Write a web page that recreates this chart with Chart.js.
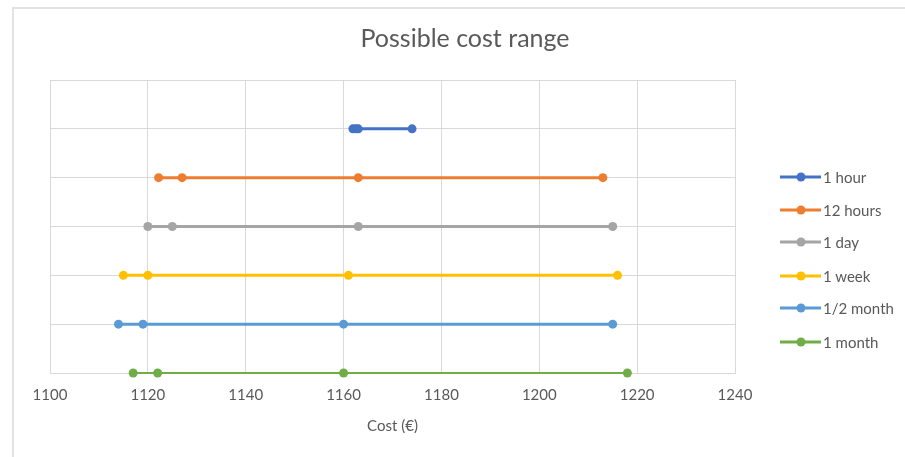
<!DOCTYPE html>
<html>
<head>
<meta charset="utf-8">
<script src="https://cdn.jsdelivr.net/npm/chart.js@4"></script>
<style>
  body { margin: 0; background: #fff; font-family: Lato, "Open Sans", sans-serif; color: #595959; }
  #wrap { position: relative; width: 905px; height: 457px; overflow: hidden; }
  #frame { position: absolute; left: 12px; top: 7px; width: 1000px; height: 1000px;
           border-left: 2px solid #e2e2e2; border-top: 2px solid #e2e2e2; }
  #chart { position: absolute; left: 0; top: 0; }
  #title { position: absolute; left: 0; top: 25px; width: 930px; text-align: center;
           font-size: 25px; line-height: 1; }
  .leg { position: absolute; left: 780px; height: 18px; line-height: 18px; font-size: 15px; white-space: nowrap; }
  .leg svg { vertical-align: top; margin-right: 2px; }
</style>
</head>
<body>
<div id="wrap">
  <div id="frame"></div>
  <canvas id="chart" width="905" height="457"></canvas>
  <div id="title">Possible cost range</div>
  <div id="legend"></div>
</div>
<script>
// series names, top row first
var categories = ['1 hour', '12 hours', '1 day', '1 week', '1/2 month', '1 month'];
// row level of each series on the (hidden) y axis
var rowLevels = [5, 4, 3, 2, 1, 0];
// cost points of each series (€)
var costs1h   = [1161.9, 1162.5, 1163, 1174];
var costs12h  = [1122.2, 1127, 1163, 1213];
var costs1d   = [1120, 1125, 1163, 1215];
var costs1w   = [1115, 1120, 1161, 1216];
var costsHalf = [1114, 1119, 1160, 1215];
var costs1m   = [1117, 1122, 1160, 1218];
var allCosts = [costs1h, costs12h, costs1d, costs1w, costsHalf, costs1m];
// x axis ticks
var xMin = 1100, xMax = 1240, xStep = 20;

var colors = ['#4472C4', '#ED7D31', '#A5A5A5', '#FFC000', '#5B9BD5', '#70AD47'];
var widths = [3, 3, 3, 3, 3, 2];
var legendY = [177, 210, 242, 276, 308, 342];

var datasets = [];
for (var i = 0; i < categories.length; i++) {
  var pts = allCosts[i].map(function (c) { return { x: c, y: rowLevels[i] }; });
  datasets.push({
    label: categories[i],
    data: pts,
    borderColor: colors[i],
    backgroundColor: colors[i],
    borderWidth: widths[i],
    pointRadius: 4.5,
    pointBorderWidth: 0,
    pointHoverRadius: 4.5,
    clip: false
  });
}

var grey = '#d9d9d9';
new Chart(document.getElementById('chart'), {
  type: 'line',
  data: { datasets: datasets },
  options: {
    responsive: false,
    animation: false,
    events: [],
    layout: { padding: { left: 50, right: 170, top: 80, bottom: 22 } },
    plugins: { legend: { display: false }, tooltip: { enabled: false } },
    scales: {
      x: {
        type: 'linear', min: xMin, max: xMax,
        ticks: { stepSize: xStep, padding: 13, color: '#595959', font: { family: 'Lato', size: 15 },
                 callback: function (v) { return String(v); } },
        grid: { color: grey, drawTicks: false },
        border: { color: grey },
        title: { display: true, text: 'Cost (€)', color: '#595959', padding: { top: 0, bottom: 0 },
                 font: { family: 'Lato', size: 15 } }
      },
      y: {
        type: 'linear', min: 0, max: 6,
        ticks: { display: false, stepSize: 1 },
        grid: { color: grey, drawTicks: false },
        border: { color: grey }
      }
    }
  }
});

// legend on the right
var legend = document.getElementById('legend');
categories.forEach(function (name, i) {
  var d = document.createElement('div');
  d.className = 'leg';
  d.style.top = (legendY[i] - 9) + 'px';
  d.innerHTML = '<svg width="41" height="18"><line x1="0" y1="9" x2="41" y2="9" stroke="' + colors[i] +
    '" stroke-width="3"/><circle cx="21" cy="9" r="4.5" fill="' + colors[i] + '"/></svg>' + name;
  legend.appendChild(d);
});
</script>
</body>
</html>
